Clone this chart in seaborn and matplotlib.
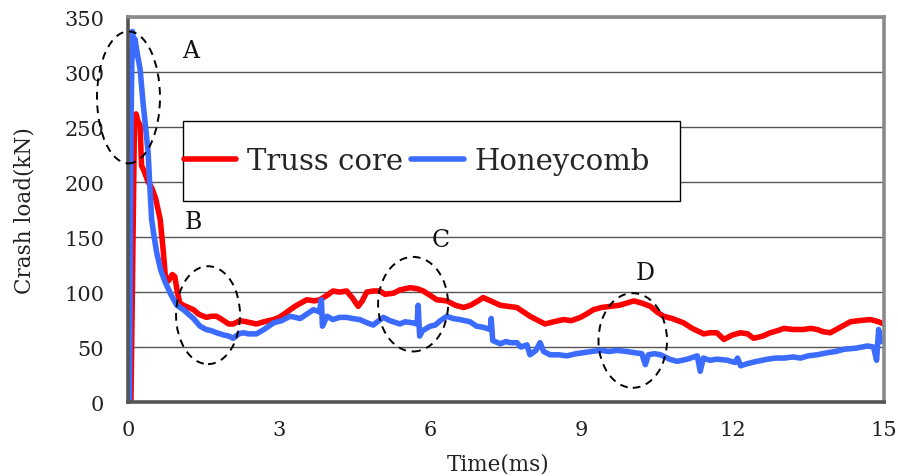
import numpy as np
import pandas as pd
import matplotlib
matplotlib.use("Agg")
import matplotlib.pyplot as plt
from matplotlib.patches import Ellipse, Rectangle
import seaborn as sns

# crash load curves (time in ms, load in kN)
truss_t = [0, 0.06, 0.13, 0.16, 0.2, 0.24, 0.27, 0.32, 0.4, 0.47, 0.55, 0.64, 0.7, 0.74, 0.8,
           0.88, 0.93, 0.98, 1.03, 1.1, 1.2, 1.3, 1.4, 1.5, 1.56, 1.65, 1.76, 1.9, 2.0, 2.09,
           2.22, 2.35, 2.45, 2.55, 2.7, 2.89, 3.0, 3.1, 3.22, 3.35, 3.55, 3.7, 3.81, 3.95, 4.07,
           4.2, 4.34, 4.45, 4.57, 4.65, 4.74, 4.87, 5.0, 5.1, 5.27, 5.4, 5.6, 5.75, 5.86, 6.0,
           6.13, 6.33, 6.5, 6.66, 6.8, 6.95, 7.05, 7.2, 7.39, 7.55, 7.72, 7.85, 7.98, 8.15, 8.28,
           8.45, 8.65, 8.8, 8.98, 9.1, 9.24, 9.4, 9.57, 9.75, 9.9, 10.04, 10.2, 10.37, 10.5, 10.63,
           10.8, 11.03, 11.2, 11.43, 11.55, 11.69, 11.83, 12.0, 12.16, 12.3, 12.42, 12.6, 12.75,
           12.9, 13.02, 13.2, 13.41, 13.55, 13.68, 13.8, 13.94, 14.1, 14.34, 14.5, 14.74, 14.9, 15.0]
truss_load = [0, 2, 258, 262, 255, 252, 215, 210, 200, 195, 185, 166, 138, 115, 110,
              116, 114, 100, 90, 88, 86, 84, 80, 78, 77, 78, 78, 74, 71, 71,
              74, 73, 72, 71, 73, 75, 77, 80, 84, 88, 93, 92, 93, 97, 101,
              100, 101, 95, 87, 92, 100, 101, 101, 98, 99, 102, 104, 103, 101, 97,
              93, 92, 88, 86, 88, 92, 95, 92, 88, 87, 86, 82, 78, 74, 71,
              73, 75, 74, 77, 80, 84, 86, 87, 88, 90, 92, 90, 87, 82, 78,
              76, 72, 67, 62, 63, 63, 57, 61, 63, 62, 58, 60, 63,
              65, 67, 66, 66, 67, 66, 64, 63, 67, 73, 74, 75, 73, 71]

honey_t = [0, 0.03, 0.06, 0.08, 0.09, 0.11, 0.14, 0.18, 0.24, 0.3, 0.35, 0.4, 0.43, 0.47, 0.52,
           0.57, 0.65, 0.74, 0.85, 0.97, 1.1, 1.2, 1.3, 1.43, 1.55, 1.65, 1.76, 1.9, 2.0, 2.09,
           2.2, 2.29, 2.4, 2.55, 2.7, 2.89, 3.05, 3.22, 3.42, 3.55, 3.68, 3.8, 3.84, 3.86, 3.95,
           4.07, 4.2, 4.34, 4.45, 4.6, 4.75, 4.87, 4.95, 5.07, 5.2, 5.4, 5.5, 5.66, 5.74, 5.76,
           5.79, 5.85, 6.0, 6.1, 6.2, 6.33, 6.45, 6.59, 6.79, 6.92, 7.05, 7.19, 7.21, 7.24, 7.39,
           7.5, 7.59, 7.72, 7.8, 7.92, 7.98, 8.1, 8.18, 8.25, 8.38, 8.55, 8.71, 8.9, 9.05, 9.2,
           9.38, 9.55, 9.71, 9.9, 10.04, 10.2, 10.27, 10.33, 10.45, 10.57, 10.75, 10.9, 11.1, 11.3,
           11.36, 11.42, 11.55, 11.69, 11.9, 12.05, 12.1, 12.16, 12.3, 12.48, 12.7, 12.85, 13.02,
           13.2, 13.35, 13.5, 13.68, 13.9, 14.05, 14.21, 14.45, 14.68, 14.8, 14.86, 14.9, 14.95, 15.0]
honey_load = [0, 0, 250, 320, 337, 315, 330, 318, 303, 272, 250, 227, 200, 166, 150,
              136, 120, 109, 98, 88, 84, 80, 76, 69, 66, 65, 63, 61, 60, 58,
              62, 63, 62, 62, 66, 72, 74, 78, 76, 80, 84, 82, 93, 69, 78,
              75, 77, 77, 76, 75, 72, 70, 73, 77, 74, 71, 73, 72, 71, 88,
              60, 65, 69, 70, 74, 78, 76, 75, 73, 69, 68, 66, 76, 56, 53,
              55, 54, 54, 50, 52, 43, 47, 54, 46, 43, 43, 42, 44, 45, 46,
              47, 46, 47, 46, 45, 44, 34, 43, 44, 43, 39, 37, 39, 42,
              28, 40, 38, 39, 38, 36, 40, 33, 35, 37, 39, 40, 40,
              41, 40, 42, 43, 45, 46, 48, 49, 51, 50, 38, 66, 55, 57]

series_names = ["Truss core", "Honeycomb"]
series_colors = ["#ff0000", "#3b6cff"]

# circled regions: label, label position, ellipse centre / size (data units)
region_labels = ["A", "B", "C", "D"]
label_t = [1.25, 1.29, 6.21, 10.27]
label_load = [320, 164, 148, 118]
ell_t = [0.01, 1.59, 5.66, 10.02]
ell_load = [277, 79, 89, 56]
ell_w = [1.25, 1.27, 1.39, 1.36]
ell_h = [120, 89, 86, 86]

df = pd.concat([
    pd.DataFrame({"Time": truss_t, "Load": truss_load, "Series": series_names[0]}),
    pd.DataFrame({"Time": honey_t, "Load": honey_load, "Series": series_names[1]}),
])

sns.set_theme(style="white")
plt.rcParams['font.family'] = ['DejaVu Serif']

fig = plt.figure(figsize=(8.98, 4.77), dpi=100)
ax = fig.add_axes([0.1425, 0.155, 0.8415, 0.807])

sns.lineplot(data=df, x="Time", y="Load", hue="Series", hue_order=series_names,
             palette=series_colors, linewidth=4, sort=False, estimator=None,
             ax=ax, legend=False, zorder=2)

ax.set_xlim(0, 15)
ax.set_ylim(0, 350)
ax.set_xticks(np.arange(0, 16, 3))
ax.set_yticks(np.arange(0, 351, 50))
ax.yaxis.grid(True, color="#555555", linewidth=1.0, zorder=0)
ax.xaxis.grid(False)
ax.set_axisbelow(True)

ax.tick_params(axis="x", direction="in", length=5, width=1, color="#333333",
               labelsize=15, pad=13, top=False)
ax.tick_params(axis="y", length=0, labelsize=15, pad=17)
for lab in ax.get_xticklabels() + ax.get_yticklabels():
    lab.set_color("#222222")

for side in ["top", "right"]:
    ax.spines[side].set_color("#8a8a8a")
    ax.spines[side].set_linewidth(2.6)
for side in ["left", "bottom"]:
    ax.spines[side].set_color("#555555")
    ax.spines[side].set_linewidth(2.6)

ax.set_xlabel("Time(ms)", fontsize=15.5, color="#222222")
ax.set_ylabel("Crash load(kN)", fontsize=15.5, color="#222222")
ax.xaxis.set_label_coords(0.49, -0.13)
ax.yaxis.set_label_coords(-0.122, 0.5)

# legend box
ax.add_patch(Rectangle((0.073, 0.522), 0.657, 0.208, transform=ax.transAxes,
                       facecolor="white", edgecolor="black", linewidth=1.0, zorder=4))
handles = [plt.Line2D([], [], color=c, linewidth=4) for c in series_colors]
leg = ax.legend(handles, series_names, loc="center left", bbox_to_anchor=(0.074, 0.626),
                ncol=2, frameon=False, fontsize=21, handlelength=1.8,
                handletextpad=0.35, columnspacing=0.3, borderaxespad=0, borderpad=0)
leg.set_zorder(5)

for i in range(len(region_labels)):
    ax.add_patch(Ellipse((ell_t[i], ell_load[i]), ell_w[i], ell_h[i], fill=False,
                         edgecolor="black", linestyle=(0, (4, 3)), linewidth=1.4,
                         clip_on=False, zorder=6))
    ax.text(label_t[i], label_load[i], region_labels[i], fontsize=17,
            ha="center", va="center", color="#111111", zorder=6)

fig.savefig("out.png", dpi=100)
